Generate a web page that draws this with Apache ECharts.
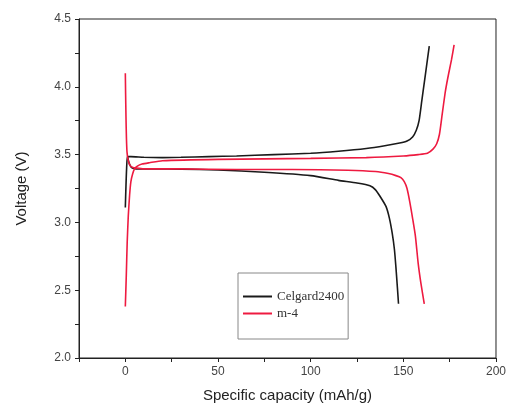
<!DOCTYPE html>
<html><head><meta charset="utf-8">
<script src="https://cdn.jsdelivr.net/npm/echarts@6/dist/echarts.min.js"></script>
<style>html,body{margin:0;padding:0;background:#fff}#c{width:509px;height:410px}</style>
</head><body><div id="c"></div>
<script>
const celgardChargeX = [0, 0.3, 0.7, 1.2, 3, 10, 20, 30, 45, 60, 80, 100, 115, 130, 140, 148, 152, 155, 157, 158.5, 160, 161.5, 163, 164];
const celgardChargeY = [3.11, 3.25, 3.4, 3.485, 3.485, 3.48, 3.478, 3.48, 3.485, 3.49, 3.5, 3.51, 3.525, 3.545, 3.565, 3.585, 3.6, 3.63, 3.68, 3.75, 3.9, 4.05, 4.2, 4.3];
const celgardDischargeX = [1.2, 2, 3, 4, 6, 15, 30, 50, 75, 100, 115, 125, 132, 135, 138, 140.7, 142.5, 144, 145.2, 146, 146.8, 147.4];
const celgardDischargeY = [3.485, 3.44, 3.41, 3.40, 3.395, 3.395, 3.393, 3.386, 3.37, 3.345, 3.31, 3.29, 3.27, 3.24, 3.18, 3.116, 3.03, 2.92, 2.8, 2.67, 2.52, 2.4];
const m4ChargeX = [0, 0.5, 1, 1.6, 2.3, 3, 4, 5, 6.5, 9, 13, 20, 50, 100, 130, 150, 158, 163, 166, 168, 169.5, 171, 172.5, 173.5, 174.5, 176, 177.4];
const m4ChargeY = [2.38, 2.6, 2.85, 3.05, 3.2, 3.3, 3.36, 3.395, 3.415, 3.43, 3.44, 3.455, 3.465, 3.472, 3.478, 3.49, 3.5, 3.51, 3.54, 3.58, 3.65, 3.8, 3.95, 4.03, 4.1, 4.2, 4.31];
const m4DischargeX = [0, 0.15, 0.35, 0.6, 0.9, 1.5, 2.5, 4, 6, 10, 30, 60, 90, 120, 135, 142, 146, 148.7, 150.5, 152, 153.5, 155, 156.5, 158, 159.5, 161.3];
const m4DischargeY = [4.1, 3.95, 3.78, 3.62, 3.52, 3.46, 3.42, 3.405, 3.40, 3.395, 3.395, 3.39, 3.39, 3.385, 3.375, 3.36, 3.345, 3.33, 3.30, 3.25, 3.15, 3.03, 2.9, 2.7, 2.55, 2.4];
const seriesNames = ['Celgard2400', 'm-4'];
const xTickLabels = [0, 50, 100, 150, 200];
const yTickLabels = [2.0, 2.5, 3.0, 3.5, 4.0, 4.5];

const pairs = (xs, ys) => xs.map((x, i) => [x, ys[i]]);
const black = '#1a1a1a', red = '#ee1a40';
const mk = (name, data, color) => ({
  name, type: 'line', data, showSymbol: false, symbol: 'none', smooth: 0.2,
  lineStyle: {color, width: 1.6}, itemStyle: {color}, animation: false, z: 3
});
const chart = echarts.init(document.getElementById('c'), null, {renderer: 'canvas'});
chart.setOption({
  animation: false,
  backgroundColor: '#fff',
  grid: {left: 79, right: 11, top: 19, bottom: 52, show: true, borderColor: '#222', borderWidth: 1},
  legend: {
    data: seriesNames, orient: 'vertical', left: 238, top: 273,
    itemWidth: 29, itemHeight: 2, itemGap: 4, icon: 'rect',
    padding: [17, 4, 19, 5], borderColor: '#888', borderWidth: 1,
    textStyle: {fontFamily: 'Liberation Serif', fontSize: 13, color: '#333', padding: [0, 0, 0, 0]}
  },
  xAxis: {
    type: 'value', min: -25, max: 200, interval: 25,
    name: 'Specific capacity (mAh/g)', nameLocation: 'middle', nameGap: 30,
    nameTextStyle: {fontFamily: 'Liberation Sans', fontSize: 15, color: '#222'},
    axisLine: {show: true, onZero: false, lineStyle: {color: '#222', width: 1}},
    axisTick: {show: true, inside: false, length: 4, lineStyle: {color: '#222'}},
    axisLabel: {fontFamily: 'Liberation Sans', fontSize: 12, color: '#444', margin: 8,
      formatter: v => xTickLabels.includes(v) ? String(v) : ''},
    splitLine: {show: false}
  },
  yAxis: {
    type: 'value', min: 2.0, max: 4.5, interval: 0.25,
    name: 'Voltage (V)', nameLocation: 'middle', nameGap: 50, nameRotate: 90,
    nameTextStyle: {fontFamily: 'Liberation Sans', fontSize: 15, color: '#222'},
    axisLine: {show: true, onZero: false, lineStyle: {color: '#222', width: 1}},
    axisTick: {show: true, inside: false, length: 4, lineStyle: {color: '#222'}},
    axisLabel: {fontFamily: 'Liberation Sans', fontSize: 12, color: '#444', margin: 8,
      formatter: v => {const r = Math.round(v * 100) / 100; return yTickLabels.some(t => Math.abs(t - r) < 1e-6) ? r.toFixed(1) : '';}},
    splitLine: {show: false}
  },
  series: [
    mk(seriesNames[0], pairs(celgardChargeX, celgardChargeY), black),
    mk(seriesNames[0], pairs(celgardDischargeX, celgardDischargeY), black),
    mk(seriesNames[1], pairs(m4ChargeX, m4ChargeY), red),
    mk(seriesNames[1], pairs(m4DischargeX, m4DischargeY), red)
  ]
});
</script></body></html>
